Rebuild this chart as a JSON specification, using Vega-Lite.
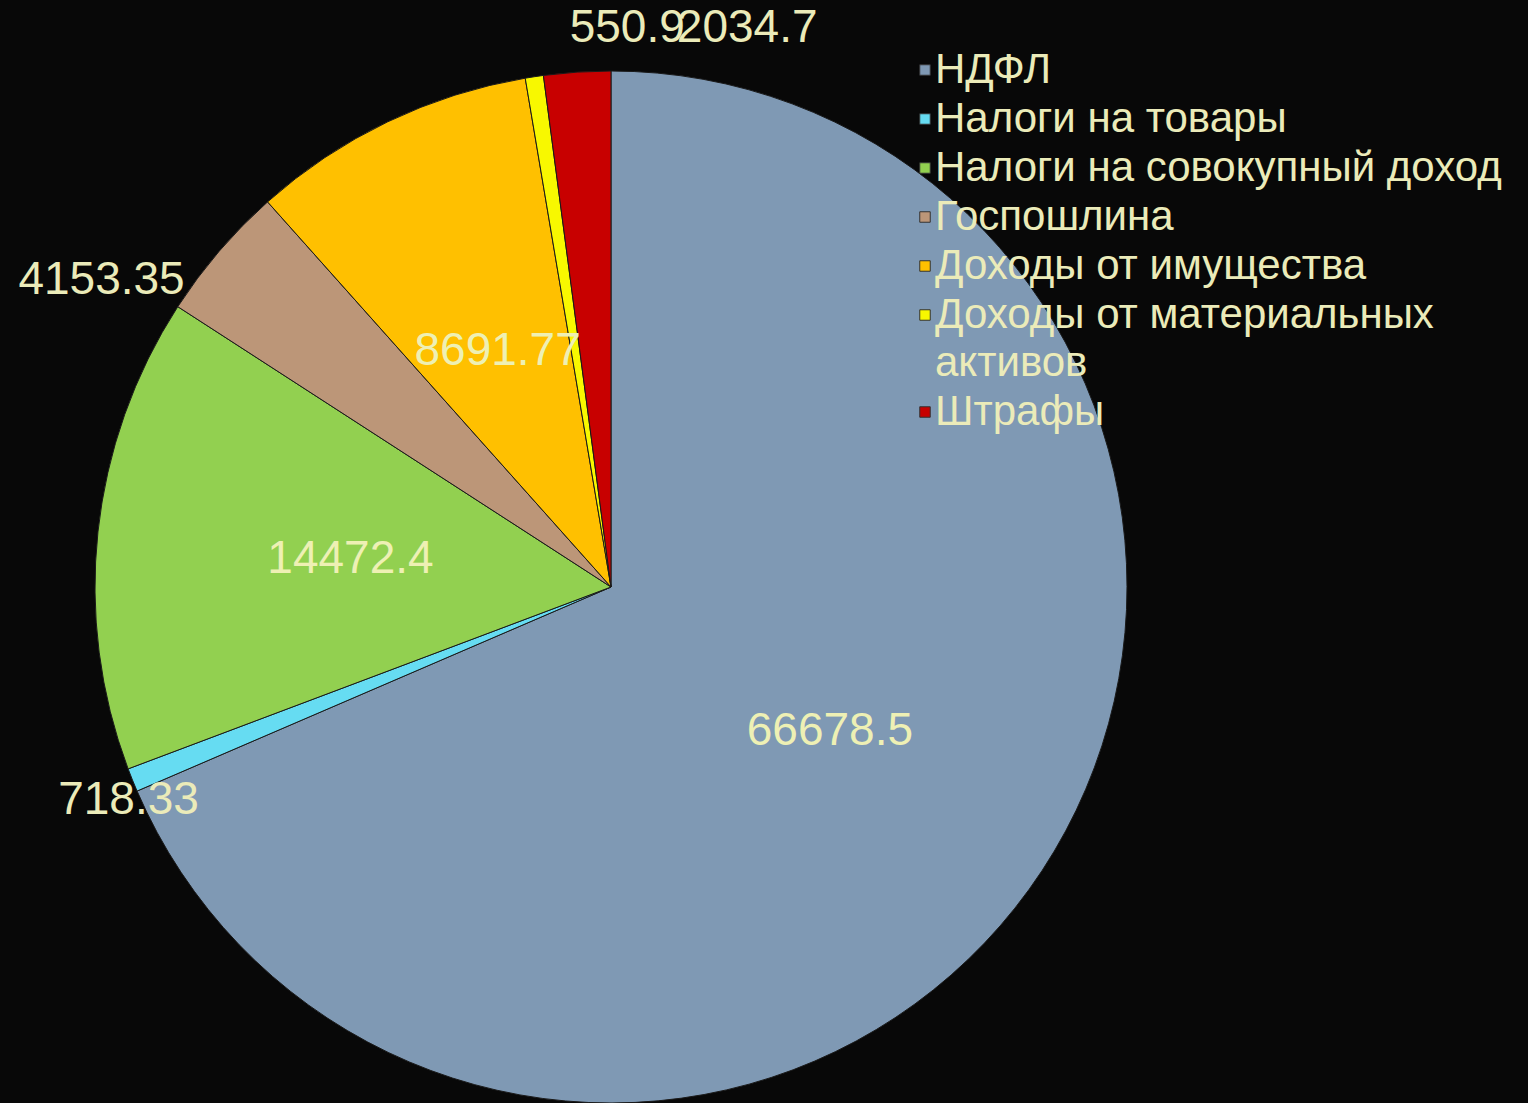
{
  "$schema": "https://vega.github.io/schema/vega-lite/v6.json",
  "autosize": {"type": "none"},
  "width": 1222,
  "height": 1032,
  "padding": {"left": 0, "top": 71, "right": 306, "bottom": 0},
  "background": "#080808",
  "config": {
    "view": {"stroke": null},
    "font": "Liberation Sans",
    "style": {"guide-label": {"lineHeight": 48}}
  },
  "data": {
    "values": [
      {"k": 1, "cat": "НДФЛ", "value": 66678.5},
      {"k": 2, "cat": "Налоги на товары", "value": 718.33},
      {"k": 3, "cat": "Налоги на совокупный доход", "value": 14472.4},
      {"k": 4, "cat": "Госпошлина", "value": 4153.35},
      {"k": 5, "cat": "Доходы от имущества", "value": 8691.77},
      {"k": 6, "cat": "Доходы от материальных активов", "value": 550.9},
      {"k": 7, "cat": "Штрафы", "value": 2034.7}
    ]
  },
  "encoding": {
    "theta": {"field": "value", "type": "quantitative", "stack": true},
    "order": {"field": "k", "type": "quantitative"}
  },
  "layer": [
    {
      "mark": {"type": "arc", "stroke": "#1a1a1a", "strokeWidth": 1},
      "encoding": {
        "color": {
          "field": "cat",
          "type": "nominal",
          "scale": {
            "domain": ["НДФЛ", "Налоги на товары", "Налоги на совокупный доход", "Госпошлина", "Доходы от имущества", "Доходы от материальных активов", "Штрафы"],
            "range": ["#7f99b4", "#66dcf2", "#92d050", "#bc9678", "#ffc000", "#f8f800", "#c80000"]
          },
          "legend": {
            "orient": "none",
            "legendX": 904,
            "legendY": -22,
            "title": null,
            "labelFont": "Liberation Sans",
            "labelFontSize": 42,
            "labelColor": "#ebebb9",
            "labelLimit": 800,
            "labelOffset": -11,
            "symbolType": "square",
            "symbolSize": 110,
            "symbolStrokeColor": "#333333",
            "symbolStrokeWidth": 1,
            "rowPadding": 7,
            "labelExpr": "datum.label == 'Доходы от материальных активов' ? ['Доходы от материальных', 'активов'] : datum.label"
          }
        }
      }
    },
    {
      "mark": {"type": "text", "radius": 262, "fontSize": 46, "fill": "#eef0b4"},
      "encoding": {
        "text": {"condition": {"test": "datum.value > 5000", "field": "value", "type": "quantitative", "format": ".6~g"}, "value": ""}
      }
    },
    {
      "mark": {"type": "text", "radius": 530, "fontSize": 46, "fill": "#ebebb9", "dx": 9, "dy": 15},
      "encoding": {
        "text": {"condition": {"test": "datum.k == 2", "field": "value", "type": "quantitative", "format": ".6~g"}, "value": ""}
      }
    },
    {
      "mark": {"type": "text", "radius": 530, "fontSize": 46, "fill": "#ebebb9", "dx": -107, "dy": 38},
      "encoding": {
        "text": {"condition": {"test": "datum.k == 4", "field": "value", "type": "quantitative", "format": ".6~g"}, "value": ""}
      }
    },
    {
      "mark": {"type": "text", "radius": 530, "fontSize": 46, "fill": "#ebebb9", "dx": 95, "dy": -35},
      "encoding": {
        "text": {"condition": {"test": "datum.k == 6", "field": "value", "type": "quantitative", "format": ".6~g"}, "value": ""}
      }
    },
    {
      "mark": {"type": "text", "radius": 530, "fontSize": 46, "fill": "#ebebb9", "dx": 171, "dy": -30},
      "encoding": {
        "text": {"condition": {"test": "datum.k == 7", "field": "value", "type": "quantitative", "format": ".6~g"}, "value": ""}
      }
    }
  ]
}
